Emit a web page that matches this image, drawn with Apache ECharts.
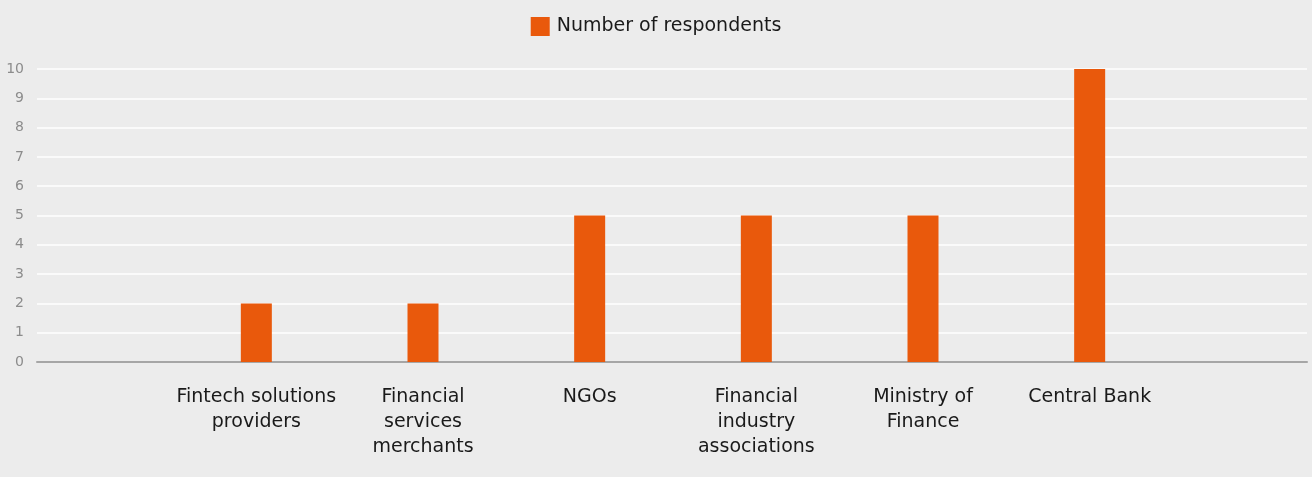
<!DOCTYPE html>
<html>
<head>
<meta charset="utf-8">
<script src="https://cdn.jsdelivr.net/npm/echarts@6/dist/echarts.min.js"></script>
<style>
  html, body { margin: 0; padding: 0; background: #ececec; }
  #chart { width: 1312px; height: 477px; }
</style>
</head>
<body>
<div id="chart"></div>
<script>
// Respondents by stakeholder type
const categories = [
  'Fintech solutions\nproviders',
  'Financial\nservices\nmerchants',
  'NGOs',
  'Financial\nindustry\nassociations',
  'Ministry of\nFinance',
  'Central Bank'
];
const respondents = [2, 2, 5, 5, 5, 10];
const seriesName = 'Number of respondents';
const yTicks = [0, 1, 2, 3, 4, 5, 6, 7, 8, 9, 10];

const FONT = 'DejaVu Sans';
const chart = echarts.init(document.getElementById('chart'));

chart.setOption({
  backgroundColor: '#ececec',
  animation: false,
  legend: {
    top: 12,
    left: 'center',
    itemWidth: 19,
    itemHeight: 19,
    itemGap: 10,
    icon: 'rect',
    textStyle: { fontFamily: FONT, fontSize: 19, color: '#1a1a1a', padding: [0, 0, 0, 2] },
    data: [seriesName]
  },
  grid: [
    // full-width frame carrying the value scale and gridlines
    { left: 37, right: 5, top: 69, bottom: 115 },
    // inner band holding the categories
    { left: 173, right: 139, top: 69, bottom: 115 }
  ],
  xAxis: [
    {
      gridIndex: 0, type: 'value', min: 0, max: 1,
      axisLine: { show: true, lineStyle: { color: '#a6a6a6', width: 2 } },
      axisTick: { show: false }, axisLabel: { show: false }, splitLine: { show: false }
    },
    {
      gridIndex: 1, type: 'category', data: categories,
      axisLine: { show: false }, axisTick: { show: false },
      axisLabel: {
        interval: 0, margin: 23, fontFamily: FONT, fontSize: 19,
        color: '#1a1a1a', lineHeight: 25
      }
    }
  ],
  yAxis: [
    {
      gridIndex: 0, type: 'value', min: yTicks[0], max: yTicks[yTicks.length - 1], interval: 1,
      axisLine: { show: false }, axisTick: { show: false },
      axisLabel: { margin: 13, fontFamily: FONT, fontSize: 14, color: '#8c8c8c' },
      splitLine: { show: true, lineStyle: { color: '#ffffff', width: 1.5 } }
    },
    {
      gridIndex: 1, type: 'value', min: yTicks[0], max: yTicks[yTicks.length - 1], interval: 1,
      axisLine: { show: false }, axisTick: { show: false },
      axisLabel: { show: false }, splitLine: { show: false }
    }
  ],
  series: [
    {
      name: seriesName,
      type: 'bar',
      xAxisIndex: 1,
      yAxisIndex: 1,
      data: respondents,
      barWidth: 31,
      itemStyle: { color: '#e9590c' }
    }
  ]
});
</script>
</body>
</html>
